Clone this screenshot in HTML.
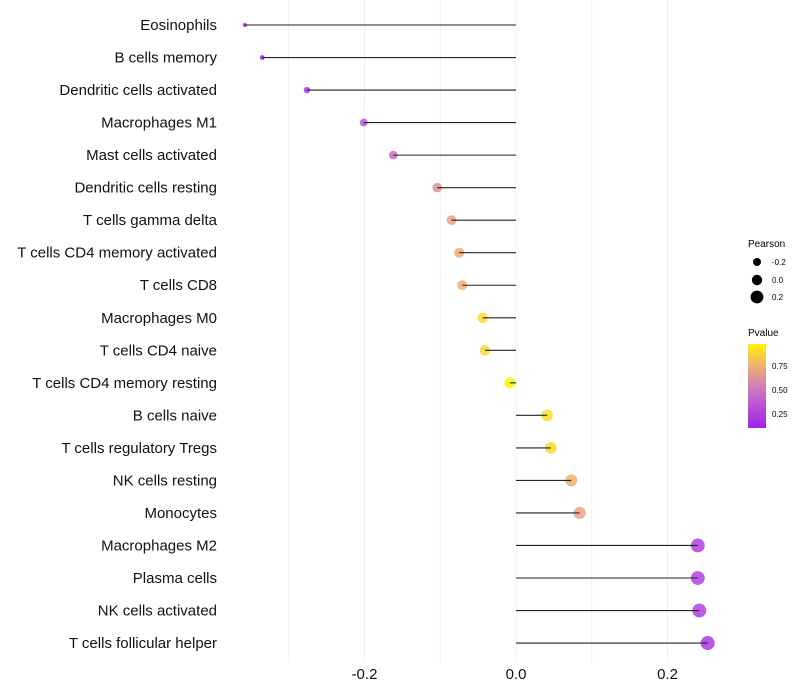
<!DOCTYPE html>
<html><head><meta charset="utf-8"><style>
body{margin:0;background:#fff;font-family:"Liberation Sans",sans-serif;}
svg{display:block}
</style></head><body>
<svg id="chart" width="800" height="700">
<g id="grid"></g>
<g id="marks"></g>
<g id="ylabels"></g>
<g id="xlabels"></g>
<g font-size="10" fill="#000">
<text x="748" y="247" font-size="10">Pearson</text>
<circle cx="757" cy="262" r="4" fill="#000"/><text x="772" y="265" font-size="8">-0.2</text>
<circle cx="757" cy="280" r="5.2" fill="#000"/><text x="772" y="283" font-size="8">0.0</text>
<circle cx="757" cy="297" r="6.4" fill="#000"/><text x="772" y="300" font-size="8">0.2</text>
</g>
<g>
<defs><linearGradient id="pg" x1="0" y1="1" x2="0" y2="0">
<stop offset="0" stop-color="#A020F0"/><stop offset="0.45" stop-color="#CC77C0"/>
<stop offset="0.75" stop-color="#F0B070"/><stop offset="1" stop-color="#FFF500"/></linearGradient></defs>
<text x="748" y="336" font-size="10">Pvalue</text>
<rect x="748" y="344" width="18" height="84" fill="url(#pg)"/>
<text x="772" y="369" font-size="8">0.75</text>
<text x="772" y="393" font-size="8">0.50</text>
<text x="772" y="417" font-size="8">0.25</text>
</g>
</svg>
<script>
const categories=["Eosinophils","B cells memory","Dendritic cells activated","Macrophages M1","Mast cells activated","Dendritic cells resting","T cells gamma delta","T cells CD4 memory activated","T cells CD8","Macrophages M0","T cells CD4 naive","T cells CD4 memory resting","B cells naive","T cells regulatory  Tregs ","NK cells resting","Monocytes","Macrophages M2","Plasma cells","NK cells activated","T cells follicular helper"];
const pearson=[-0.358,-0.335,-0.276,-0.201,-0.162,-0.104,-0.085,-0.075,-0.071,-0.044,-0.041,-0.008,0.041,0.046,0.073,0.084,0.240,0.240,0.242,0.253];
const pvalue=[0.08,0.1,0.18,0.35,0.45,0.62,0.7,0.73,0.74,0.88,0.88,0.97,0.9,0.88,0.75,0.7,0.25,0.25,0.25,0.2];
const xTicks=[-0.2,0.0,0.2];
const xTickLabels=["-0.2","0.0","0.2"];
const gridVals=[-0.3,-0.2,-0.1,0,0.1,0.2];
const NS="http://www.w3.org/2000/svg";
const x=v=>516+v*757.5;
const y=i=>25+i*32.53;
const r=v=>Math.sqrt(4+45*(v+0.36)/0.61);
function lerp(a,b,t){return a.map((c,k)=>Math.round(c+(b[k]-c)*t));}
function col(p){const st=[[0.1,[160,32,240]],[0.5,[204,119,192]],[0.75,[240,176,112]],[0.97,[255,245,0]]];
if(p<=st[0][0])return `rgb(${st[0][1]})`;
for(let i=0;i<st.length-1;i++){if(p<=st[i+1][0]){const c=lerp(st[i][1],st[i+1][1],(p-st[i][0])/(st[i+1][0]-st[i][0]));return `rgb(${c})`;}}
return `rgb(${st[3][1]})`;}
function mk(tag,attrs,parent){const e=document.createElementNS(NS,tag);for(const k in attrs)e.setAttribute(k,attrs[k]);parent.appendChild(e);return e;}
const grid=document.getElementById('grid'),marks=document.getElementById('marks'),yl=document.getElementById('ylabels'),xl=document.getElementById('xlabels');
gridVals.forEach(g=>{const l=mk('line',{x1:x(g),x2:x(g),y1:0,y2:662,stroke:'#f0f0f0','stroke-width':1},grid);

});
categories.forEach((c,i)=>{
const cc=mk('circle',{cx:x(pearson[i]),cy:y(i),r:r(pearson[i]),fill:col(pvalue[i]),'fill-opacity':0.85},marks);


const ln=mk('line',{x1:x(0),x2:x(pearson[i]),y1:y(i),y2:y(i),stroke:'#222','stroke-width':1.1},marks);


const t=mk('text',{x:217,y:y(i)+5,'text-anchor':'end','font-size':15,fill:'#111'},yl);t.textContent=c;


});
xTicks.forEach((v,i)=>{const t=mk('text',{x:x(v),y:679,'text-anchor':'middle','font-size':15,fill:'#111'},xl);t.textContent=xTickLabels[i];

});
</script>
</body></html>
